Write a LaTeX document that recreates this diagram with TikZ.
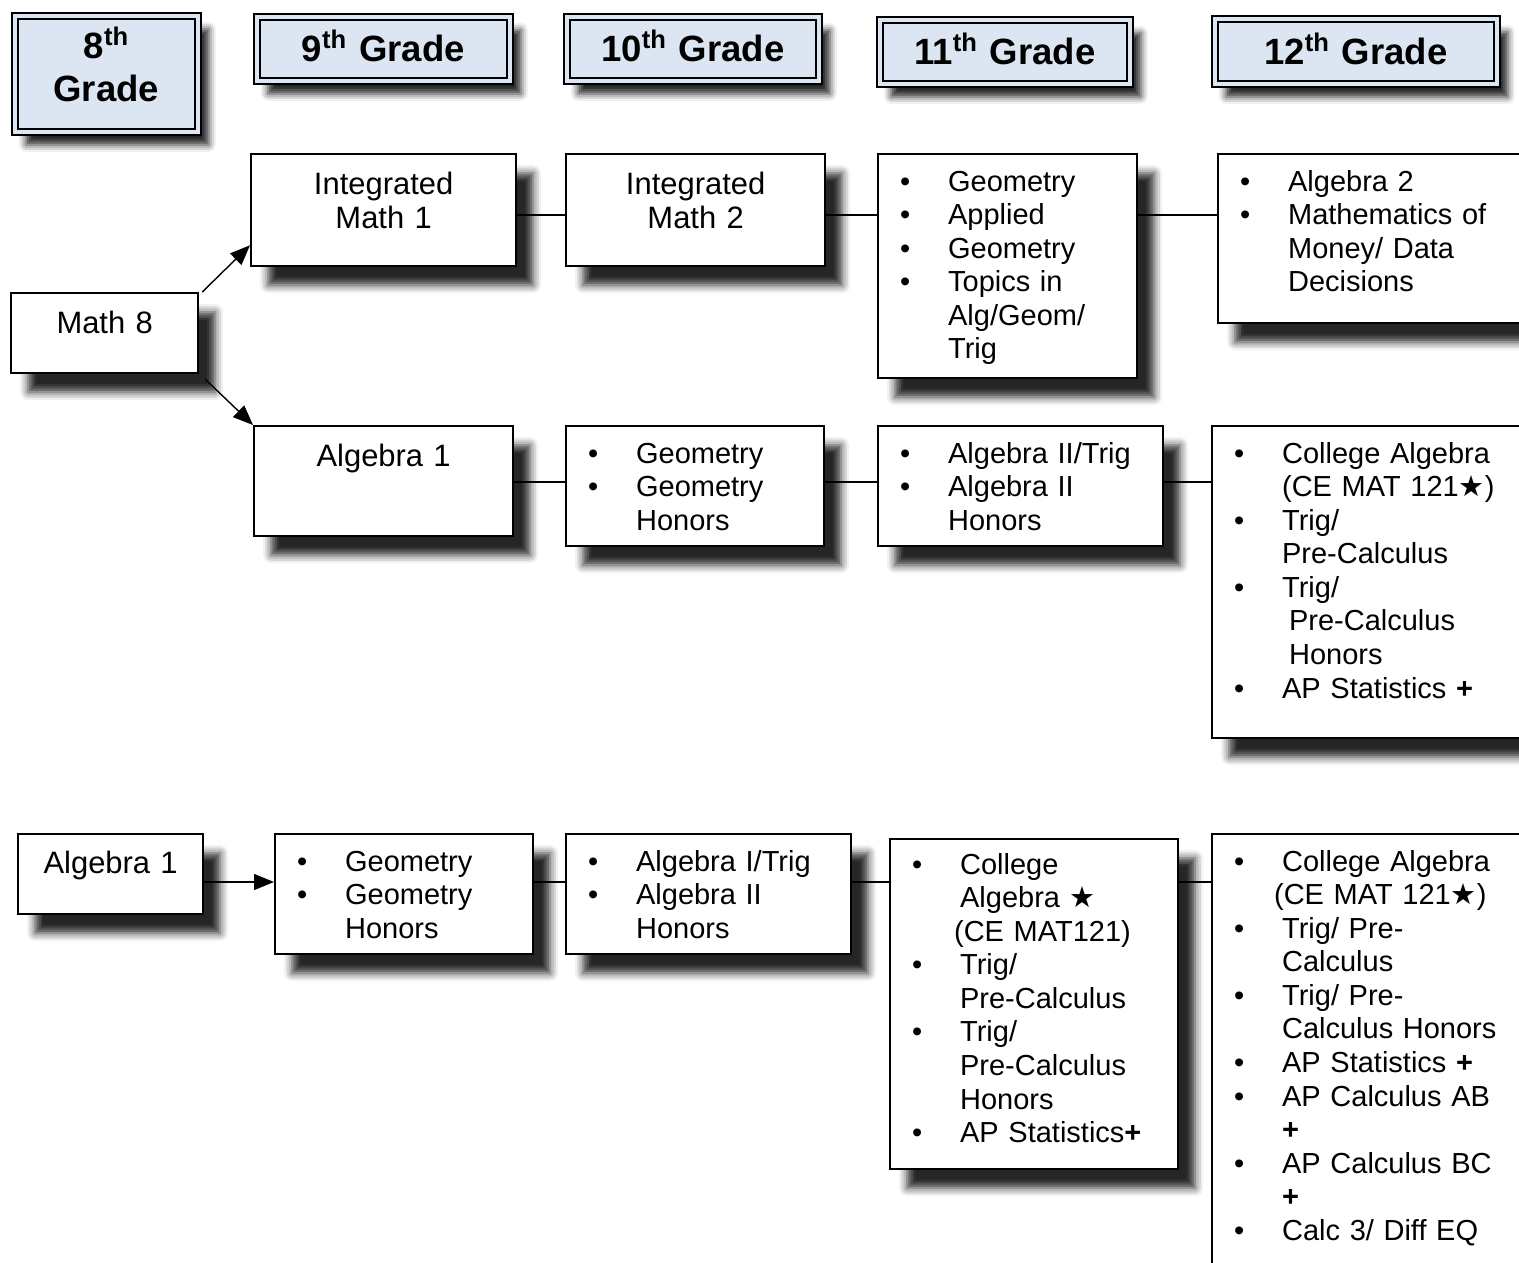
\documentclass[tikz,border=0pt]{standalone}
\usepackage{fontspec}
\setmainfont{Liberation Sans}
\newfontfamily\symf{DejaVu Sans}
\usetikzlibrary{arrows.meta,shadows.blur}
\definecolor{hdrblue}{HTML}{DCE6F3}
\newcommand\bstar{{\symf\char"2605}}
\newcommand\itm[1]{\mbox{\makebox[0.96cm][l]{\textbullet}#1}}
\newcommand\cnt[2][0.96cm]{\mbox{\hspace*{#1}#2}}

\begin{document}
\begin{tikzpicture}[x=0.02cm,y=-0.02cm,
  crs/.style={draw,line width=1.3pt,fill=white,anchor=north west,inner xsep=0.44cm,inner ysep=0pt,
              blur shadow={shadow xshift=0.34cm,shadow yshift=-0.38cm,shadow blur radius=0.16cm,shadow opacity=85}},
  lst/.style n args={3}{crs,align=left,font=\fontsize{16.5}{19.1}\selectfont,text width=#1,text height=#2,text depth=#3},
  one/.style n args={3}{crs,align=center,font=\fontsize{17.6}{19.4}\selectfont,text width=#1,text height=#2,text depth=#3},
  hdr/.style n args={3}{draw,line width=1pt,double=hdrblue,double distance=2.3pt,fill=hdrblue,anchor=north west,
              inner sep=0pt,align=center,font=\fontsize{20.8}{24.4}\selectfont\bfseries,
              text width=#1,text height=#2,text depth=#3,
              blur shadow={shadow xshift=0.22cm,shadow yshift=-0.26cm,shadow blur radius=0.14cm,shadow opacity=85}},
  ln/.style={line width=1pt},
  arr/.style={-{Triangle[length=0.4cm,width=0.32cm]},line width=0.8pt}]
  \useasboundingbox (0,0) rectangle (1519,1262);
  % grade headers
  \node[hdr={3.66cm}{0.86cm}{1.46cm}] (h8) at (14,15) {8\textsuperscript{th}\\Grade};
  \node[hdr={5.06cm}{0.90cm}{0.38cm}] (h9) at (256,16) {9\textsuperscript{th} Grade};
  \node[hdr={5.04cm}{0.90cm}{0.38cm}] (h10) at (566,16) {10\textsuperscript{th} Grade};
  \node[hdr={5.00cm}{0.90cm}{0.38cm}] (h11) at (879,19) {11\textsuperscript{th} Grade};
  \node[hdr={5.64cm}{0.92cm}{0.38cm}] (h12) at (1214,18) {12\textsuperscript{th} Grade};
  % Math 8 track
  \node[one={2.86cm}{0.80cm}{0.80cm}] (m8) at (10,292) {Math 8};
  \node[one={4.42cm}{0.80cm}{1.44cm}] (im1) at (250,153) {Integrated\\Math 1};
  \node[one={4.30cm}{0.80cm}{1.44cm}] (im2) at (565,153) {Integrated\\Math 2};
  \node[lst={4.30cm}{0.74cm}{3.74cm}] (geo11) at (877,153) {\itm{Geometry}\\\itm{Applied}\\\itm{Geometry}\\\itm{Topics in}\\\cnt{Alg/Geom/}\\\cnt{Trig}};
  \node[lst={6.12cm}{0.74cm}{2.64cm}] (alg12) at (1217,153) {\itm{Algebra 2}\\\itm{Mathematics of}\\\cnt{Money/ Data}\\\cnt{Decisions}};
  \node[one={4.30cm}{0.80cm}{1.40cm}] (alg9) at (253,425) {Algebra 1};
  \node[lst={4.28cm}{0.74cm}{1.66cm}] (geo10) at (565,425) {\itm{Geometry}\\\itm{Geometry}\\\cnt{Honors}};
  \node[lst={4.82cm}{0.74cm}{1.66cm}] (alg11) at (877,425) {\itm{Algebra II/Trig}\\\itm{Algebra II}\\\cnt{Honors}};
  \node[lst={6.10cm}{0.74cm}{5.50cm}] (pre12) at (1211,425) {\itm{College Algebra}\\\cnt{(CE MAT 121\bstar)}\\\itm{Trig/}\\\cnt{Pre-Calculus}\\\itm{Trig/}\\\cnt[1.1cm]{Pre-Calculus}\\\cnt[1.1cm]{Honors}\\\itm{AP Statistics \textbf{+}}};
  % Algebra 1 in 8th grade track
  \node[one={2.82cm}{0.78cm}{0.82cm}] (alg8) at (17,833) {Algebra 1};
  \node[lst={4.28cm}{0.74cm}{1.66cm}] (geo9) at (274,833) {\itm{Geometry}\\\itm{Geometry}\\\cnt{Honors}};
  \node[lst={4.82cm}{0.74cm}{1.66cm}] (alg10) at (565,833) {\itm{Algebra I/Trig}\\\itm{Algebra II}\\\cnt{Honors}};
  \node[lst={4.88cm}{0.70cm}{5.90cm}] (col11) at (889,838) {\itm{College}\\\cnt{Algebra \bstar}\\\cnt[0.84cm]{(CE MAT121)}\\\itm{Trig/}\\\cnt{Pre-Calculus}\\\itm{Trig/}\\\cnt{Pre-Calculus}\\\cnt{Honors}\\\itm{AP Statistics\textbf{+}}};
  \node[lst={6.10cm}{0.74cm}{8.66cm}] (col12) at (1211,833) {\itm{College Algebra}\\\cnt[0.80cm]{(CE MAT 121\bstar)}\\\itm{Trig/ Pre-}\\\cnt{Calculus}\\\itm{Trig/ Pre-}\\\cnt{Calculus Honors}\\\itm{AP Statistics \textbf{+}}\\\itm{AP Calculus AB}\\\cnt{\textbf{+}}\\\itm{AP Calculus BC}\\\cnt{\textbf{+}}\\\itm{Calc 3/ Diff EQ}};
  % connectors
  \coordinate (r1) at (0,215);
  \coordinate (r2) at (0,482);
  \coordinate (r3) at (0,882);
  \draw[arr] ([xshift=0.06cm]m8.north east) -- ([yshift=0.44cm]im1.south west);
  \draw[arr] ([xshift=0.12cm,yshift=-0.1cm]m8.south east) -- (alg9.north west);
  \draw[ln] (im1.east |- r1) -- (im2.west |- r1);
  \draw[ln] (im2.east |- r1) -- (geo11.west |- r1);
  \draw[ln] (geo11.east |- r1) -- (alg12.west |- r1);
  \draw[ln] (alg9.east |- r2) -- (geo10.west |- r2);
  \draw[ln] (geo10.east |- r2) -- (alg11.west |- r2);
  \draw[ln] (alg11.east |- r2) -- (pre12.west |- r2);
  \draw[arr] (alg8.east |- r3) -- (geo9.west |- r3);
  \draw[ln] (geo9.east |- r3) -- (alg10.west |- r3);
  \draw[ln] (alg10.east |- r3) -- (col11.west |- r3);
  \draw[ln] (col11.east |- r3) -- (col12.west |- r3);
\end{tikzpicture}
\end{document}
